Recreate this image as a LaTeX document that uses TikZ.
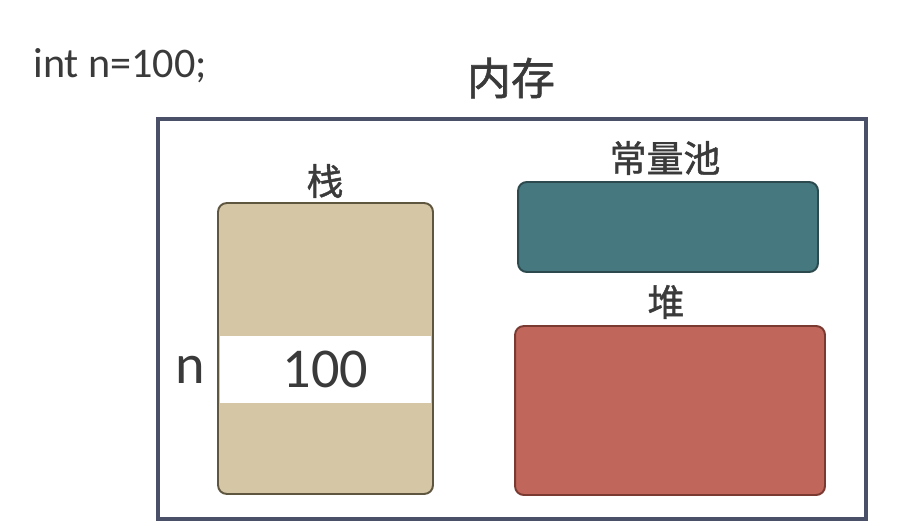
\documentclass[tikz,border=0pt]{standalone}
\usepackage{fontspec}
\setmainfont{Carlito}
\newfontfamily\cjk[FakeBold=1.2]{Noto Sans CJK SC}
\definecolor{txtgray}{HTML}{3A3A3A}
\definecolor{frame}{HTML}{4A5068}
\definecolor{stackfill}{HTML}{D5C6A5}
\definecolor{stackline}{HTML}{5F5640}
\definecolor{poolfill}{HTML}{467880}
\definecolor{poolline}{HTML}{2C4A4E}
\definecolor{heapfill}{HTML}{C0665A}
\definecolor{heapline}{HTML}{7A3A32}

\begin{document}
\begin{tikzpicture}[x=0.02cm,y=-0.02cm,
    area/.style={draw,line width=1.1pt,rounded corners=5pt,inner sep=0pt},
    lbl/.style={text=txtgray,font=\cjk\fontsize{21}{24}\selectfont,inner sep=0pt}]
    \useasboundingbox (0,0) rectangle (912,527);
    \node[anchor=west,text=txtgray,font=\fontsize{24}{28}\selectfont,inner sep=0pt] (code) at (33,66) {int n=100;};
    \node[lbl,font=\cjk\fontsize{25}{29}\selectfont] (title) at (511,78) {内存};
    \node[draw=frame,line width=2.3pt,minimum width=14.16cm,minimum height=8cm] (mem) at (512,319) {};
    % stack
    \node[area,draw=stackline,fill=stackfill,minimum width=4.3cm,minimum height=5.82cm] (stack) at (325.5,348.5) {};
    \node[fill=white,minimum width=4.22cm,minimum height=1.34cm,inner sep=0pt,text=txtgray,font=\fontsize{32}{36}\selectfont] (val) at (325.5,369.5) {100};
    \node[lbl] (stacklbl) at (325,181) {栈};
    \node[text=txtgray,font=\fontsize{32}{36}\selectfont,inner sep=0pt] (var) at (190,370) {n};
    % constant pool and heap
    \node[area,draw=poolline,fill=poolfill,minimum width=6cm,minimum height=1.8cm] (pool) at (668,227) {};
    \node[lbl] (poollbl) at (665,158) {常量池};
    \node[area,draw=heapline,fill=heapfill,minimum width=6.2cm,minimum height=3.38cm] (heap) at (670,410.5) {};
    \node[lbl] (heaplbl) at (666,302) {堆};
\end{tikzpicture}
\end{document}
